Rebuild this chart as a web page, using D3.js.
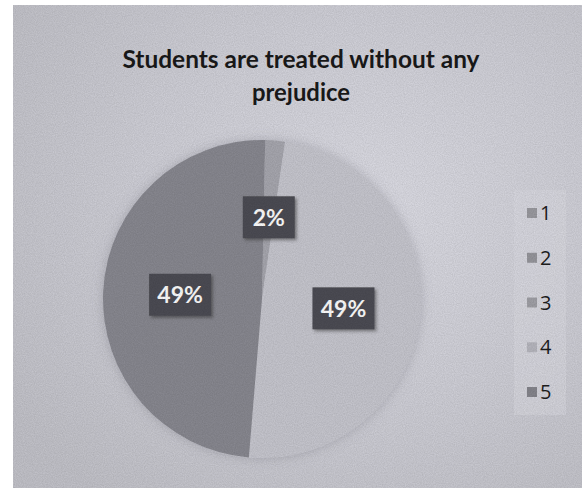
<!DOCTYPE html>
<html>
<head>
<meta charset="utf-8">
<script src="https://cdn.jsdelivr.net/npm/d3@7"></script>
<style>
  html, body { margin: 0; padding: 0; background: #ffffff; }
  svg { display: block; }
</style>
</head>
<body>
<div id="chart"></div>
<script>
// ---- data ----
const titleLines = ["Students are treated without any", "prejudice"];
const categories = ["1", "2", "3", "4", "5"];
const values = [0, 0, 2, 49, 49];
const sliceColors = ["#9b9ba1", "#97979d", "#a9a9b1", "#c9c9d1", "#8a8a92"];
const legendColors = ["#9c9ca2", "#98989e", "#a2a2a8", "#b9b9c1", "#87878e"];

// ---- layout ----
const W = 582, H = 492;
const svg = d3.select("#chart").append("svg").attr("width", W).attr("height", H);
const defs = svg.append("defs");

// scanned-paper texture
const tex = defs.append("filter").attr("id", "grain").attr("x", 0).attr("y", 0).attr("width", 1).attr("height", 1);
tex.append("feTurbulence").attr("type", "fractalNoise").attr("baseFrequency", 0.9).attr("numOctaves", 2).attr("seed", 3).attr("result", "noise");
tex.append("feColorMatrix").attr("in", "noise").attr("type", "matrix")
  .attr("values", "0 0 0 0 0  0 0 0 0 0  0 0 0 0 0  0 0 0 0.22 0").attr("result", "dots");
tex.append("feComposite").attr("in", "dots").attr("in2", "SourceGraphic").attr("operator", "in");

const bg = defs.append("radialGradient").attr("id", "bgGrad")
  .attr("cx", "62%").attr("cy", "42%").attr("r", "75%");
bg.append("stop").attr("offset", "0%").attr("stop-color", "#e0e0e8");
bg.append("stop").attr("offset", "55%").attr("stop-color", "#d2d2da");
bg.append("stop").attr("offset", "100%").attr("stop-color", "#c5c5cc");

const shadow = defs.append("filter").attr("id", "shadow").attr("x", "-20%").attr("y", "-20%").attr("width", "150%").attr("height", "150%");
shadow.append("feDropShadow").attr("dx", 2).attr("dy", 2).attr("stdDeviation", 1.5).attr("flood-color", "#333").attr("flood-opacity", 0.5);

const pieShadow = defs.append("filter").attr("id", "pieShadow").attr("x", "-20%").attr("y", "-20%").attr("width", "140%").attr("height", "140%");
pieShadow.append("feDropShadow").attr("dx", 0).attr("dy", 0).attr("stdDeviation", 6).attr("flood-color", "#7a7a85").attr("flood-opacity", 0.4);

// chart area background
const area = { x: 13, y: 5, w: W - 13, h: 483 };
svg.append("rect").attr("x", area.x).attr("y", area.y).attr("width", area.w).attr("height", area.h)
  .attr("fill", "url(#bgGrad)");

// title
const title = svg.append("text")
  .attr("font-family", "Lato, 'Open Sans', sans-serif")
  .attr("font-weight", "bold")
  .attr("font-size", 24)
  .attr("fill", "#1a1a1a")
  .attr("text-anchor", "middle");
title.append("tspan").attr("x", 301).attr("y", 68).attr("textLength", 357).attr("lengthAdjust", "spacingAndGlyphs").text(titleLines[0]);
title.append("tspan").attr("x", 301).attr("y", 101).attr("textLength", 98).attr("lengthAdjust", "spacingAndGlyphs").text(titleLines[1]);

// pie
const cx = 262, cy = 299, R = 159;
const pie = d3.pie().sort(null).value(d => d.value).startAngle(0.02).endAngle(0.02 + 2 * Math.PI);
const data = categories.map((c, i) => ({ cat: c, value: values[i], color: sliceColors[i] }));
const arcs = pie(data);
const arc = d3.arc().innerRadius(0).outerRadius(R);
const labelArc = d3.arc().innerRadius(82).outerRadius(82);

const g = svg.append("g").attr("transform", `translate(${cx},${cy})`);
g.append("circle").attr("r", R).attr("fill", "#c9c9d1").attr("filter", "url(#pieShadow)");
g.selectAll("path.slice").data(arcs.filter(a => a.data.value > 0)).join("path")
  .attr("class", "slice")
  .attr("d", arc)
  .attr("fill", d => d.data.color);

// data labels
const fmt = d3.format(".0%");
const total = d3.sum(values);
const lab = g.selectAll("g.lab").data(arcs.filter(a => a.data.value > 0)).join("g")
  .attr("class", "lab")
  .attr("transform", d => { const [x, y] = labelArc.centroid(d); return `translate(${x},${y})`; });
lab.append("rect")
  .attr("x", d => -(fmt(d.data.value / total).length === 2 ? 52 : 62) / 2)
  .attr("y", -21)
  .attr("width", d => fmt(d.data.value / total).length === 2 ? 52 : 62)
  .attr("height", 42)
  .attr("fill", "#4e4e54")
  .attr("filter", "url(#shadow)");
lab.append("text")
  .attr("text-anchor", "middle")
  .attr("dy", "0.36em")
  .attr("font-family", "Lato, 'Open Sans', sans-serif")
  .attr("font-weight", "bold")
  .attr("font-size", 23)
  .attr("fill", "#ffffff")
  .text(d => fmt(d.data.value / total));

// legend
const legend = svg.append("g");
legend.append("rect").attr("x", 514).attr("y", 190).attr("width", 52).attr("height", 225)
  .attr("fill", "#dedee5").attr("opacity", 0.55);
const ly = d3.scalePoint().domain(categories).range([213, 392]);
const items = legend.selectAll("g.item").data(categories).join("g")
  .attr("class", "item")
  .attr("transform", d => `translate(527,${ly(d)})`);
items.append("rect").attr("x", 0).attr("y", -5).attr("width", 10).attr("height", 10)
  .attr("fill", (d, i) => legendColors[i]);
items.append("text").attr("x", 13).attr("y", 0).attr("dy", "0.36em")
  .attr("font-family", "'Open Sans', Lato, sans-serif")
  .attr("font-size", 20)
  .attr("fill", "#1e1e1e")
  .text(d => d);

// grain overlay
svg.append("rect").attr("x", area.x).attr("y", area.y).attr("width", area.w).attr("height", area.h)
  .attr("fill", "#000").attr("filter", "url(#grain)").attr("opacity", 0.6);
</script>
</body>
</html>
